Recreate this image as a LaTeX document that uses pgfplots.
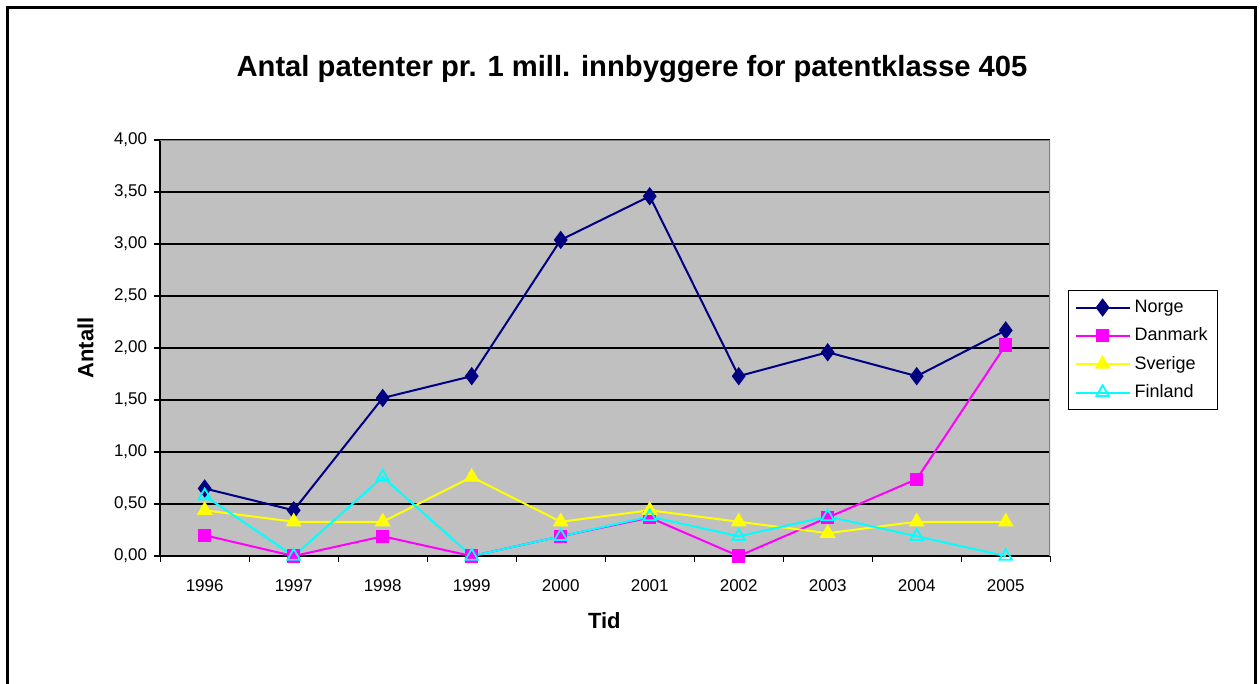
\documentclass[border=0pt]{standalone}
\usepackage{pgfplots}
\pgfplotsset{compat=1.18}
\usepackage{fontspec}
\setmainfont{Liberation Sans}
\definecolor{norgecol}{HTML}{000080}
\definecolor{danmarkcol}{HTML}{FF00FF}
\definecolor{sverigecol}{HTML}{FFFF00}
\definecolor{finlandcol}{HTML}{00FFFF}
\definecolor{plotbg}{HTML}{C0C0C0}

\begin{document}
\begin{tikzpicture}[x=0.5pt,y=0.5pt]
\useasboundingbox (0,0) rectangle (1260,684);
% outer chart frame
\draw[black, line width=1.2pt] (7.5,-5) -- (7.5,676.5) -- (1255.5,676.5) -- (1255.5,-5);
\node[font=\fontsize{14.6}{16}\selectfont\bfseries] at (632,615) {Antal patenter pr. 1 mill. innbyggere for patentklasse 405};

\begin{axis}[
    at={(180,123)}, anchor=south west,
    width=445pt, height=208pt, scale only axis,
    xmin=-0.5, xmax=9.5,
    ymin=0, ymax=4,
    xtick={0,...,9},
    xticklabels={1996,1997,1998,1999,2000,2001,2002,2003,2004,2005},
    minor xtick={-0.5,0.5,...,9.5},
    ytick={0,0.5,...,4},
    major x tick style={draw=none},
    tick align=outside,
    major tick length=3pt,
    minor tick length=3pt,
    tick style={black, line width=0.6pt},
    axis x line*=bottom, axis y line*=left,
    axis line style={black, line width=0.8pt, -},
    ymajorgrids, grid style={black, line width=0.6pt},
    axis background/.style={fill=plotbg},
    tick label style={font=\fontsize{8.5}{10}\selectfont},
    xticklabel style={yshift=-5pt},
    /pgf/number format/assume math mode=true,
    yticklabel style={/pgf/number format/.cd, fixed, fixed zerofill, precision=2, use comma},
    xlabel={Tid}, ylabel={Antall},
    xlabel style={font=\fontsize{11}{13}\selectfont\bfseries, at={(axis description cs:0.499,-0.156)}, anchor=center},
    ylabel style={font=\fontsize{11}{13}\selectfont\bfseries, at={(axis description cs:-0.084,0.5)}, anchor=center, rotate=0},
    legend style={at={(1.02,0.639)}, anchor=north west, draw=black, line width=0.6pt,
        font=\fontsize{9}{10}\selectfont, row sep=2.2pt, inner xsep=3pt, inner ysep=2.5pt,
        cells={anchor=west}},
    legend image code/.code={
        \draw[#1, mark repeat=2, mark phase=2] plot coordinates {(0pt,0pt) (13.5pt,0pt) (27pt,0pt)};
    },
    every axis plot/.append style={line width=1pt},
]
\draw[gray, line width=0.8pt] (rel axis cs:0,1) -- (rel axis cs:1,1) -- (rel axis cs:1,0);
\addplot[norgecol, mark=diamond*, mark size=3.8pt, mark options={fill=norgecol}] coordinates {
    (0,0.65) (1,0.44) (2,1.52) (3,1.73) (4,3.04) (5,3.46) (6,1.73) (7,1.96) (8,1.73) (9,2.17)
};
\addplot[danmarkcol, mark=square*, mark size=2.8pt, mark options={fill=danmarkcol}] coordinates {
    (0,0.20) (1,0.00) (2,0.19) (3,0.00) (4,0.19) (5,0.37) (6,0.00) (7,0.37) (8,0.74) (9,2.03)
};
\addplot[sverigecol, mark=triangle*, mark size=3.6pt, mark options={fill=sverigecol}] coordinates {
    (0,0.44) (1,0.33) (2,0.33) (3,0.76) (4,0.33) (5,0.44) (6,0.33) (7,0.22) (8,0.33) (9,0.33)
};
\addplot[finlandcol, mark=triangle, mark size=3.6pt, mark options={fill=none, line width=0.9pt}] coordinates {
    (0,0.58) (1,0.00) (2,0.76) (3,0.00) (4,0.19) (5,0.38) (6,0.19) (7,0.38) (8,0.19) (9,0.00)
};
\legend{Norge, Danmark, Sverige, Finland}
\end{axis}
\end{tikzpicture}
\end{document}
